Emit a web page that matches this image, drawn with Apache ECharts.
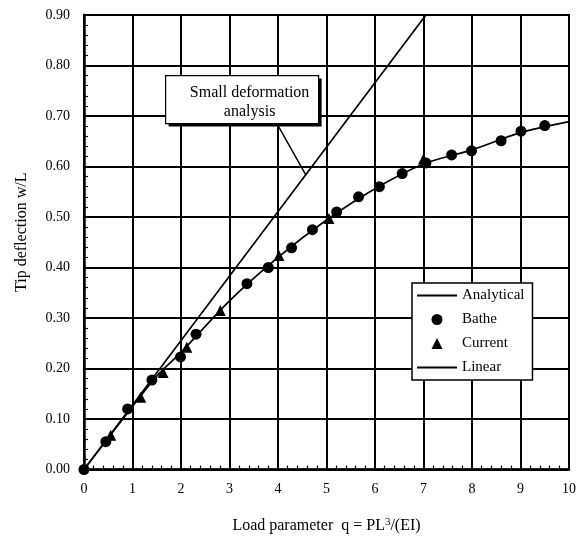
<!DOCTYPE html>
<html>
<head>
<meta charset="utf-8">
<script src="https://cdn.jsdelivr.net/npm/echarts@6/dist/echarts.min.js"></script>
<style>
  html, body { margin: 0; padding: 0; background: #fff; }
  #chart { width: 579px; height: 539px; }
</style>
</head>
<body>
<div id="chart"></div>
<script>
// values
const batheX = [0, 0.45, 0.90, 1.40, 1.99, 2.31, 3.36, 3.80, 4.28, 4.71, 5.21, 5.66, 6.09, 6.56, 7.05, 7.58, 7.99, 8.60, 9.01, 9.50]
const batheY = [0, 0.055, 0.120, 0.177, 0.223, 0.268, 0.368, 0.400, 0.439, 0.475, 0.510, 0.540, 0.560, 0.586, 0.607, 0.623, 0.631, 0.651, 0.670, 0.681]

const currentX = [0.55, 1.17, 1.63, 2.12, 2.81, 4.02, 5.05, 7.00]
const currentY = [0.068, 0.143, 0.192, 0.242, 0.315, 0.424, 0.497, 0.615]

const analyticalX = [0, 1, 1.5, 2, 3, 4, 5, 6, 7, 8, 9, 10]
const analyticalY = [0, 0.125, 0.185, 0.232, 0.334, 0.420, 0.494, 0.556, 0.605, 0.633, 0.667, 0.689]

const linearX = [0, 7.05]
const linearY = [0, 0.90]

// leader from the note box to the linear line
const leaderX = [3.99, 4.57]
const leaderY = [0.683, 0.584]

const xTicks = ['0', '1', '2', '3', '4', '5', '6', '7', '8', '9', '10']
const noteLines = ['Small deformation', 'analysis']

const FONT = '"Liberation Serif", "DejaVu Serif", serif'
const pairs = (xs, ys) => xs.map((x, i) => [x, ys[i]])

const chart = echarts.init(document.getElementById('chart'))

const option = {
  animation: false,
  backgroundColor: '#fff',
  textStyle: { fontFamily: FONT, color: '#000' },
  grid: {
    left: 84, right: 8, top: 15, bottom: 68,
    show: true, borderColor: '#000', borderWidth: 2
  },
  legend: {
    orient: 'vertical',
    left: 412, top: 283,
    backgroundColor: '#fff',
    borderColor: '#000',
    borderWidth: 1.5,
    borderRadius: 0,
    padding: [5, 8, 5, 4],
    itemWidth: 40,
    itemHeight: 11,
    itemGap: 9,
    symbolKeepAspect: true,
    textStyle: { fontFamily: FONT, fontSize: 15, color: '#000' },
    data: [
      { name: 'Analytical', itemStyle: { opacity: 0 } },
      { name: 'Bathe', icon: 'circle' },
      { name: 'Current', icon: 'path://M5,0 L10,10 L0,10 Z' },
      { name: 'Linear', itemStyle: { opacity: 0 } }
    ]
  },
  xAxis: {
    type: 'value',
    min: 0, max: 10, interval: 1,
    name: '{a|Load parameter  q = PL}{s|3}{a|/(EI)}',
    nameLocation: 'middle',
    nameGap: 47,
    nameTextStyle: {
      rich: {
        a: { fontFamily: FONT, fontSize: 16, color: '#000' },
        s: { fontFamily: FONT, fontSize: 11, color: '#000', padding: [0, 0, 8, 0] }
      }
    },
    axisLine: { show: true, lineStyle: { color: '#000', width: 2.5 } },
    axisTick: { show: false, inside: true },
    minorTick: { show: true, splitNumber: 5, length: 4, lineStyle: { color: '#000', width: 1.2 } },
    axisLabel: {
      margin: 13, fontSize: 14, color: '#000', fontFamily: FONT,
      formatter: v => xTicks[Math.round(v)]
    },
    splitLine: { show: true, lineStyle: { color: '#000', width: 2 } }
  },
  yAxis: {
    type: 'value',
    min: 0, max: 0.9, interval: 0.1,
    name: 'Tip deflection w/L',
    nameLocation: 'middle',
    nameGap: 54,
    nameTextStyle: { fontFamily: FONT, fontSize: 16, color: '#000', padding: [0, 0, 0, 20] },
    axisLine: { show: true, lineStyle: { color: '#000', width: 2.5 } },
    axisTick: { show: false, inside: true },
    minorTick: { show: true, splitNumber: 5, length: 4, lineStyle: { color: '#000', width: 1.2 } },
    axisLabel: {
      margin: 14, fontSize: 14, color: '#000', fontFamily: FONT,
      formatter: v => v.toFixed(2)
    },
    splitLine: { show: true, lineStyle: { color: '#000', width: 2 } }
  },
  series: [
    {
      name: 'Analytical',
      type: 'line',
      smooth: 0.3,
      symbol: 'none',
      data: pairs(analyticalX, analyticalY),
      lineStyle: { color: '#000', width: 1.7 },
      itemStyle: { color: '#000' },
      z: 3
    },
    {
      name: 'Bathe',
      type: 'scatter',
      symbol: 'circle',
      symbolSize: 11,
      data: pairs(batheX, batheY),
      itemStyle: { color: '#000', opacity: 1 },
      z: 4
    },
    {
      name: 'Current',
      type: 'scatter',
      symbol: 'triangle',
      symbolSize: 11,
      data: pairs(currentX, currentY),
      itemStyle: { color: '#000', opacity: 1 },
      z: 5
    },
    {
      name: 'Linear',
      type: 'line',
      symbol: 'none',
      data: pairs(linearX, linearY),
      lineStyle: { color: '#000', width: 1.7 },
      itemStyle: { color: '#000' },
      z: 3
    },
    {
      name: 'leader',
      type: 'line',
      symbol: 'none',
      silent: true,
      data: pairs(leaderX, leaderY),
      lineStyle: { color: '#000', width: 1.4 },
      z: 3
    }
  ],
  graphic: [
    {
      type: 'group',
      left: 165, top: 75,
      z: 100,
      children: [
        { type: 'rect', z: 100, shape: { x: 3, y: 3, width: 153, height: 48 }, style: { fill: '#000' } },
        { type: 'rect', z: 101, shape: { x: 0, y: 0, width: 153, height: 48 }, style: { fill: '#fff', stroke: '#000', lineWidth: 1.2 } },
        {
          type: 'text', z: 102, x: 84, y: 17,
          style: { text: noteLines[0], font: '16px ' + FONT, fill: '#000', align: 'center', verticalAlign: 'middle' }
        },
        {
          type: 'text', z: 102, x: 84, y: 36,
          style: { text: noteLines[1], font: '16px ' + FONT, fill: '#000', align: 'center', verticalAlign: 'middle' }
        }
      ]
    }
  ]
}

chart.setOption(option)
</script>
</body>
</html>
